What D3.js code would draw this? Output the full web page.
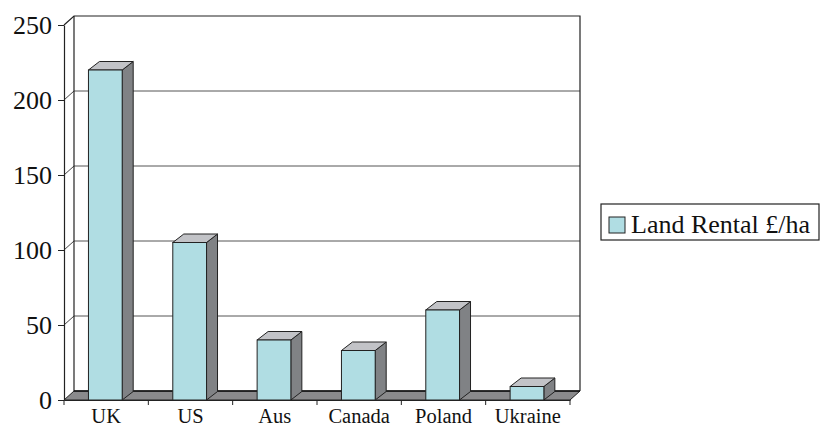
<!DOCTYPE html>
<html>
<head>
<meta charset="utf-8">
<script src="https://cdn.jsdelivr.net/npm/d3@7"></script>
<style>
  html, body { margin: 0; padding: 0; background: #fff; }
  svg { display: block; }
  text { font-family: "Liberation Serif", "Times New Roman", serif; fill: #111; }
</style>
</head>
<body>
<svg id="chart" width="820" height="428"></svg>
<script>
const categories = ["UK", "US", "Aus", "Canada", "Poland", "Ukraine"];
const values = [220, 105, 40, 33, 60, 9];
const yTicks = [0, 50, 100, 150, 200, 250];
const seriesName = "Land Rental £/ha";

(function () {
const svg = d3.select("#chart");
const pLeft = 64, pRight = 570, pBottom = 400, pTop = 25;
const wdx = 10, wdy = 9;      // wall depth
const bdx = 11, bdy = 8.5;    // bar depth
const faceColor = "#b0dde3", sideColor = "#808285", topColor = "#c2c3c7", floorColor = "#8a8a8c";
const lineColor = "#222";

const x = d3.scaleBand().domain(categories).range([pLeft, pRight]).paddingInner(0).paddingOuter(0);
const y = d3.scaleLinear().domain([0, 250]).range([pBottom, pTop]);
const bw = x.bandwidth();

// back wall gridlines and left-wall diagonals
const grid = svg.append("g");
yTicks.filter(t => t > 0 && t < 250).forEach(t => {
  grid.append("line").attr("x1", pLeft).attr("y1", y(t)).attr("x2", pLeft + wdx).attr("y2", y(t) - wdy)
    .attr("stroke", "#444").attr("stroke-width", 1);
  grid.append("line").attr("x1", pLeft + wdx).attr("y1", y(t) - wdy).attr("x2", pRight + wdx).attr("y2", y(t) - wdy)
    .attr("stroke", "#555").attr("stroke-width", 1);
});

// wall outlines
const wall = svg.append("g").attr("fill", "none").attr("stroke", lineColor).attr("stroke-width", 1.2);
wall.append("path").attr("d", d3.line()([
  [pLeft, y(250)], [pLeft + wdx, y(250) - wdy], [pRight + wdx, y(250) - wdy], [pRight + wdx, y(0) - wdy]
]));
wall.append("line").attr("x1", pLeft + wdx).attr("y1", y(250) - wdy).attr("x2", pLeft + wdx).attr("y2", y(0) - wdy);

// floor
svg.append("path")
  .attr("d", d3.line()([[pLeft, y(0)], [pRight, y(0)], [pRight + wdx, y(0) - wdy], [pLeft + wdx, y(0) - wdy]]) + "Z")
  .attr("fill", floorColor).attr("stroke", lineColor).attr("stroke-width", 1);
svg.append("line").attr("x1", pLeft + wdx).attr("y1", y(0) - wdy).attr("x2", pRight + wdx).attr("y2", y(0) - wdy)
  .attr("stroke", "#111").attr("stroke-width", 1.6);

// bars
const bars = svg.append("g").selectAll("g").data(categories).join("g");
bars.each(function(c, i) {
  const g = d3.select(this);
  const x0 = x(c) + bw * 0.29, w = bw * 0.4;
  const yt = y(values[i]), yb = y(0);
  g.append("path").attr("d", d3.line()([[x0 + w, yt], [x0 + w + bdx, yt - bdy], [x0 + w + bdx, yb - bdy], [x0 + w, yb]]) + "Z")
    .attr("fill", sideColor).attr("stroke", lineColor).attr("stroke-width", 1);
  g.append("path").attr("d", d3.line()([[x0, yt], [x0 + bdx, yt - bdy], [x0 + w + bdx, yt - bdy], [x0 + w, yt]]) + "Z")
    .attr("fill", topColor).attr("stroke", lineColor).attr("stroke-width", 1);
  g.append("rect").attr("x", x0).attr("y", yt).attr("width", w).attr("height", yb - yt)
    .attr("fill", faceColor).attr("stroke", lineColor).attr("stroke-width", 1);
});

// y axis
const yAxis = svg.append("g").attr("transform", `translate(${pLeft},0)`)
  .call(d3.axisLeft(y).tickValues(yTicks).tickSize(6).tickPadding(6).tickSizeOuter(0));
yAxis.select(".domain").attr("stroke", lineColor).attr("stroke-width", 1.2);
yAxis.selectAll(".tick line").attr("stroke", lineColor);
yAxis.selectAll("text").style("font-size", "26px").style("font-family", "Liberation Serif").attr("fill", "#111").attr("dy", "0.33em");

// x axis
const xAxis = svg.append("g").attr("transform", `translate(0,${pBottom})`)
  .call(d3.axisBottom(x).tickSize(0).tickPadding(0).tickSizeOuter(0));
xAxis.select(".domain").attr("stroke", lineColor).attr("stroke-width", 1.2);
xAxis.selectAll("text").style("font-size", "20.5px").style("font-family", "Liberation Serif").attr("fill", "#111")
  .attr("y", 23.3).attr("dy", 0);
const edges = categories.map(c => x(c)).concat([pRight]);
xAxis.selectAll(".edge").data(edges).join("line").attr("class", "edge")
  .attr("x1", d => d).attr("x2", d => d).attr("y1", 0).attr("y2", 5).attr("stroke", lineColor);

// legend
const lg = svg.append("g");
lg.append("rect").attr("x", 601).attr("y", 204).attr("width", 218).attr("height", 36)
  .attr("fill", "#fff").attr("stroke", lineColor).attr("stroke-width", 1.2);
lg.append("rect").attr("x", 609).attr("y", 217).attr("width", 16).attr("height", 16)
  .attr("fill", faceColor).attr("stroke", lineColor).attr("stroke-width", 1);
lg.append("text").attr("x", 631).attr("y", 232.5).style("font-size", "26px").text(seriesName);
})();
</script>
</body>
</html>
